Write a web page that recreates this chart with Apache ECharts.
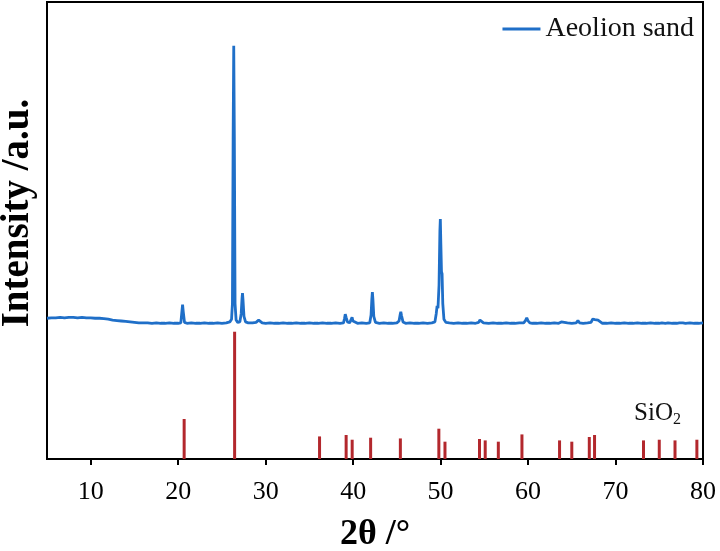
<!DOCTYPE html>
<html>
<head>
<meta charset="utf-8">
<script src="https://cdn.jsdelivr.net/npm/echarts@6/dist/echarts.min.js"></script>
<style>
html,body{margin:0;padding:0;background:#fff;}
#chart{width:720px;height:551px;}
</style>
</head>
<body>
<div id="chart"></div>
<script>
// Measured XRD pattern of aeolian sand: [2θ (°), intensity (a.u.)]
var sandPattern = [
  [5.0,308],[5.5,309],[6.0,309],[6.5,310],[7.0,309],[7.5,310],[8.0,310],[8.5,309],[9.0,310],[9.5,309],
  [10.0,309],[10.5,308],[11.0,308],[11.5,307],[12.0,306],[12.5,304],[13.0,303],[13.5,302],[14.0,301],
  [14.5,300],[15.0,299],[15.5,298],[16.0,298],[16.5,298],[17.0,297],[17.5,298],[18.0,297],[18.5,297],
  [19.0,298],[19.5,297],[20.0,297],[20.3,298],[20.42,322],[20.5,338],[20.58,322],[20.72,299],[21.0,297],
  [21.5,298],[22.0,297],[22.5,297],[23.0,298],[23.5,297],[24.0,297],[24.5,298],[25.0,297],[25.5,298],
  [25.9,300],[26.1,306],[26.2,340],[26.28,700],[26.35,904],[26.42,700],[26.5,340],[26.62,304],
  [26.8,299],[27.05,300],[27.2,318],[27.3,352],[27.35,363],[27.41,348],[27.52,312],[27.7,300],[28.0,298],
  [28.5,298],[28.9,299],[29.1,302],[29.2,304],[29.35,300],[29.6,298],[30.0,297],[30.5,298],[31.0,297],
  [31.5,297],[32.0,298],[32.5,297],[33.0,297],[33.5,298],[34.0,297],[34.5,297],[35.0,298],[35.5,297],
  [36.0,297],[36.5,298],[37.0,297],[37.5,297],[38.0,298],[38.5,297],[38.9,298],[39.02,308],[39.1,317],
  [39.2,310],[39.35,300],[39.6,298],[39.78,302],[39.88,310],[39.98,302],[40.2,298],[40.5,297],[41.0,298],
  [41.5,297],[41.9,298],[42.05,315],[42.14,350],[42.2,365],[42.26,350],[42.36,312],[42.55,299],[43.0,297],
  [43.5,298],[44.0,297],[44.5,297],[45.0,298],[45.25,302],[45.38,316],[45.45,322],[45.53,314],[45.7,300],
  [46.0,297],[46.5,298],[47.0,297],[47.5,297],[48.0,298],[48.5,297],[49.0,298],[49.35,300],[49.5,318],
  [49.6,335],[49.7,330],[49.82,380],[49.92,500],[49.97,525],[50.03,470],[50.1,410],[50.17,405],
  [50.25,340],[50.38,306],[50.6,299],[51.0,298],[51.5,297],[52.0,298],[52.5,297],[53.0,297],[53.5,298],
  [54.0,297],[54.35,299],[54.5,304],[54.6,306],[54.72,302],[54.9,298],[55.5,297],[56.0,298],[56.5,297],
  [57.0,297],[57.5,298],[58.0,297],[58.5,297],[59.0,298],[59.5,298],[59.7,303],[59.85,309],[59.98,303],
  [60.2,298],[60.5,297],[61.0,297],[61.5,298],[62.0,297],[62.5,297],[63.0,298],[63.5,297],[63.8,300],
  [64.0,297],[64.5,298],[65.0,297],[65.5,298],[65.7,303],[65.88,298],[66.3,297],[66.8,298],[67.2,299],
  [67.38,306],[67.5,309],[67.65,305],[67.85,304],[68.0,304],[68.15,300],[68.5,297],[69.0,297],[69.5,298],
  [70.0,297],[70.5,297],[71.0,298],[71.5,297],[72.0,297],[72.5,298],[73.0,297],[73.5,297],[74.0,298],
  [74.5,297],[75.0,297],[75.3,298],[75.5,300],[75.7,297],[76.0,298],[76.5,297],[77.0,297],[77.3,298],
  [77.5,301],[77.7,298],[78.0,297],[78.5,298],[79.0,297],[79.5,297],[80.0,298]
];

// SiO2 reference (standard card) lines: positions and relative intensities
var sio2Positions = [20.68, 26.45, 36.16, 39.2, 39.89, 42.0, 45.4, 49.8, 50.5, 54.45, 55.1, 56.6,
                     59.3, 63.6, 65.0, 67.0, 67.6, 73.2, 75.0, 76.8, 79.3];
var sio2Heights   = [87.5, 278.5, 49.4, 52.5, 42.2, 46.6, 45.0, 66.3, 37.9, 43.8, 40.7, 37.9,
                     53.8, 40.7, 37.9, 48.1, 52.5, 40.7, 42.2, 40.7, 42.2];

var xTicks = [10, 20, 30, 40, 50, 60, 70, 80];
var sandName = 'Aeolion sand';
var refName = 'SiO2';
var xAxisTitle = '2θ /°';
var yAxisTitle = 'Intensity /a.u.';

var sticks = sio2Positions.map(function (p, i) { return [p, sio2Heights[i]]; });

var serif = '"Liberation Serif", "Times New Roman", serif';
var chart = echarts.init(document.getElementById('chart'), null, {renderer: 'canvas'});

chart.setOption({
  animation: false,
  backgroundColor: '#ffffff',
  grid: {left: 47, right: 17, top: 2, bottom: 92, show: true, borderColor: '#000', borderWidth: 2,
    backgroundColor: 'transparent', containLabel: false, outerBoundsMode: 'none'},
  legend: {
    data: [sandName],
    right: 21, top: 10,
    icon: 'rect', itemWidth: 38, itemHeight: 3, itemGap: 6,
    textStyle: {fontFamily: serif, fontSize: 28, color: '#111'}
  },
  xAxis: {
    type: 'value', min: 5, max: 80, interval: 10,
    name: xAxisTitle, nameLocation: 'middle', nameGap: 58,
    nameTextStyle: {fontFamily: serif, fontSize: 36, fontWeight: 'bold', color: '#000'},
    axisLine: {show: true, onZero: false, lineStyle: {color: '#000', width: 2}},
    axisTick: {show: true, inside: false, length: 6, lineStyle: {color: '#000', width: 2},
      customValues: xTicks},
    axisLabel: {fontFamily: serif, fontSize: 26, color: '#000', margin: 20, customValues: xTicks},
    splitLine: {show: false}
  },
  yAxis: {
    type: 'value', min: 0, max: 1000,
    axisLine: {show: true, lineStyle: {color: '#000', width: 2}},
    axisTick: {show: false}, axisLabel: {show: false}, splitLine: {show: false}
  },
  graphic: [
    {type: 'text', rotation: Math.PI / 2, x: 18, y: 213,
      style: {text: yAxisTitle, fontFamily: serif, fontSize: 39, fontWeight: 'bold', fill: '#000',
        textAlign: 'center', textVerticalAlign: 'middle'}}
  ],
  series: [
    {
      name: sandName, type: 'line', data: sandPattern, showSymbol: false, symbol: 'none',
      lineStyle: {color: '#1f6fc8', width: 2.8}, itemStyle: {color: '#1f6fc8'},
      z: 3
    },
    {
      name: refName, type: 'bar', data: sticks, barWidth: 3,
      itemStyle: {color: '#b3282d'}, z: 2,
      markPoint: {
        symbol: 'rect', symbolSize: 1, itemStyle: {color: 'transparent'},
        data: [{coord: [74.8, 100], value: refName}],
        label: {show: true, position: 'inside',
          formatter: '{a|SiO}{b|2}',
          rich: {a: {fontFamily: serif, fontSize: 25, color: '#111'},
                 b: {fontFamily: serif, fontSize: 16, color: '#111', verticalAlign: 'bottom', padding: [12, 0, 0, 0]}}}
      }
    }
  ]
});
</script>
</body>
</html>
